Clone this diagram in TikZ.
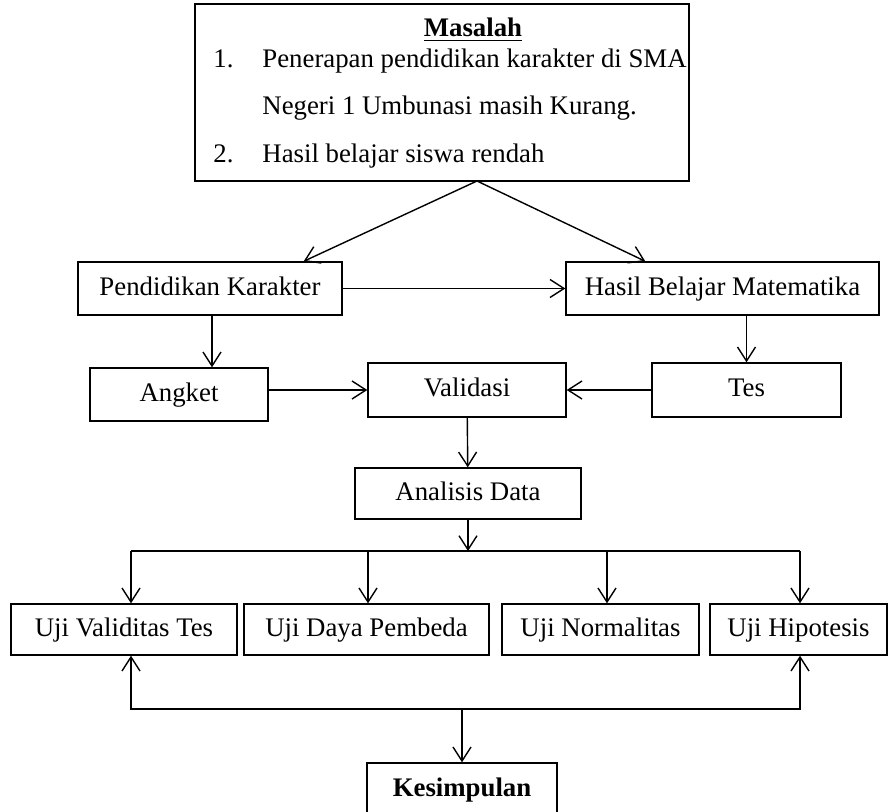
\documentclass[tikz,border=0pt]{standalone}
\usepackage{fontspec}
\setmainfont{Liberation Serif}
\usetikzlibrary{arrows.meta}

\begin{document}
\begin{tikzpicture}[
            x=0.5pt, y=-0.5pt,
            font=\fontsize{13.4}{16}\selectfont,
            box/.style={rectangle, draw, line width=0.7pt, inner sep=0pt, text height=9.2pt, text depth=2.6pt, minimum height=26.5pt, fill=white},
            txt/.style={anchor=base west, inner sep=0pt},
            arrow/.style={-{Straight Barb[length=7pt,width=9pt]}, line width=0.7pt},
            twoarrow/.style={{Straight Barb[length=7pt,width=9pt]}-{Straight Barb[length=7pt,width=9pt]}, line width=0.7pt}
        ]
            \useasboundingbox (0,0) rectangle (888,812);

            % --- MASALAH (atas) ---
            \node[box, text height=, text depth=, minimum width=247pt, minimum height=88.5pt] (masalah) at (442,92.5) {};
            \node[anchor=base, inner sep=0pt] (judul) at (473,37) {\textbf{\underline{Masalah}}};
            \node[txt] (no1) at (213,68) {1.};
            \node[txt] (isi1) at (262,68) {Penerapan pendidikan karakter di SMA};
            \node[txt] (isi1b) at (262,115) {Negeri 1 Umbunasi masih Kurang.};
            \node[txt] (no2) at (213,163) {2.};
            \node[txt] (isi2) at (262,163) {Hasil belajar siswa rendah};
            \coordinate (puncak) at (477,181);

            % --- VARIABEL ---
            \node[box, minimum width=132pt] (pendidikan) at (210,288.5) {Pendidikan Karakter};
            \node[box, minimum width=156.5pt] (hasil) at (722.5,288.5) {Hasil Belajar Matematika};

            % --- INSTRUMEN ---
            \node[box, minimum width=89pt] (angket) at (179,394.5) {Angket};
            \node[box, minimum width=99pt, minimum height=27pt] (validasi) at (467,390) {Validasi};
            \node[box, minimum width=94.5pt, minimum height=27pt] (tes) at (746.5,390) {Tes};

            % --- ANALISIS ---
            \node[box, minimum width=113pt, minimum height=25.5pt] (analisis) at (468,493.5) {Analisis Data};
            \coordinate (cabang) at (468,551);

            % --- UJI ---
            \node[box, minimum width=113pt, minimum height=25.5pt] (ujiValiditas) at (124,629.5) {Uji Validitas Tes};
            \node[box, minimum width=122.5pt, minimum height=25.5pt] (ujiDaya) at (366.5,629.5) {Uji Daya Pembeda};
            \node[box, minimum width=98.5pt, minimum height=25.5pt] (ujiNormalitas) at (600.5,629.5) {Uji Normalitas};
            \node[box, minimum width=88.5pt, minimum height=25.5pt] (ujiHipotesis) at (798.5,629.5) {Uji Hipotesis};

            % --- KESIMPULAN ---
            \coordinate (gabung) at (462,709);
            \node[box, minimum width=95pt, minimum height=27pt] (kesimpulan) at (462,790) {\textbf{Kesimpulan}};

            % panah
            \draw[arrow] (puncak) -- ([xshift=-19.5pt]pendidikan.north east);
            \draw[arrow] (puncak) -- ([xshift=40pt]hasil.north west);
            \draw[arrow] (pendidikan) -- (hasil);
            \draw[arrow] ([xshift=1pt]pendidikan.south) -- ([xshift=1pt]pendidikan.south |- angket.north);
            \draw[arrow] (tes.north |- hasil.south) -- (tes.north);
            \draw[arrow] (angket.east |- validasi) -- (validasi.west);
            \draw[arrow] (tes.west) -- (validasi.east);
            \draw[arrow] (validasi) -- (analisis);
            \draw[arrow] (analisis) -- (cabang);

            \draw[line width=0.7pt] ([xshift=3.5pt]ujiValiditas.north |- cabang) -- ([xshift=0.75pt]ujiHipotesis.north |- cabang);
            \foreach \n/\dx in {ujiValiditas/3.5, ujiDaya/0.75, ujiNormalitas/3.25, ujiHipotesis/0.75}
                \draw[arrow] ([xshift=\dx pt]\n.north |- cabang) -- ([xshift=\dx pt]\n.north);

            \draw[twoarrow] ([xshift=3.5pt]ujiValiditas.south) |- (gabung) -| ([xshift=0.75pt]ujiHipotesis.south);
            \draw[arrow] (gabung) -- (kesimpulan);

        \end{tikzpicture}
\end{document}
